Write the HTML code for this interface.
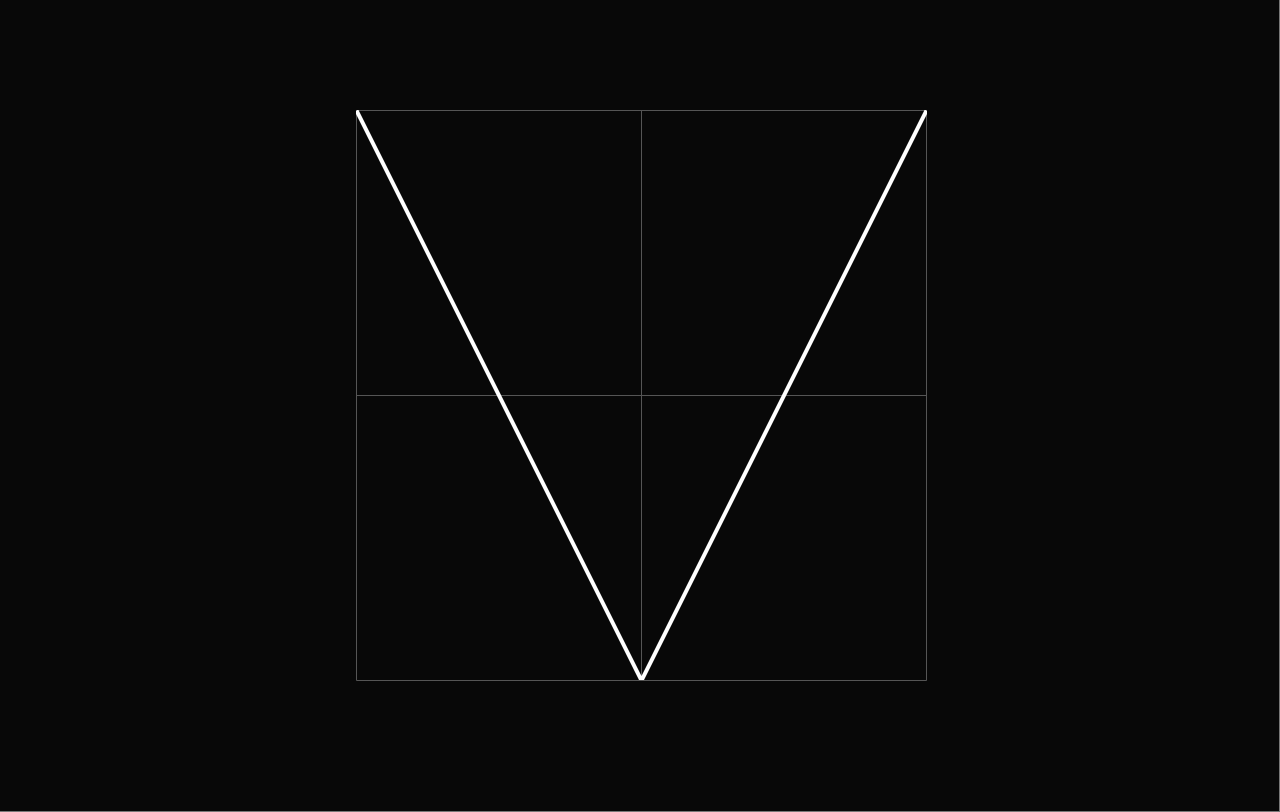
<!DOCTYPE html>
<html><head><meta charset="utf-8"><style>
html,body{margin:0;padding:0;background:#080808;}
svg{display:block;}
</style></head><body>
<svg id="chart" width="1280" height="812" xmlns="http://www.w3.org/2000/svg">
<defs><clipPath id="plotclip"><rect x="356" y="110" width="571" height="570"/></clipPath></defs>
<rect x="0" y="0" width="1280" height="812" fill="#080808"/>
<line x1="1279.5" y1="0" x2="1279.5" y2="812" stroke="#777" stroke-width="1"/>
<line x1="0" y1="811.5" x2="1280" y2="811.5" stroke="#777" stroke-width="1"/>
<g id="grid"></g>
<g id="series" clip-path="url(#plotclip)"></g>
</svg>
<script>
const xValues = [-1, 0, 1];
const yValues = [1, 0, 1];
const xGridTicks = [-1, 0, 1];
const yGridTicks = [0, 0.5, 1];

const X0 = 356.5, X1 = 926.5, Y0 = 680.5, Y1 = 110.5;
function sx(v){ return X0 + (v - (-1)) / 2 * (X1 - X0); }
function sy(v){ return Y0 - (v - 0) / 1 * (Y0 - Y1); }
const NS = 'http://www.w3.org/2000/svg';
const grid = document.getElementById('grid');
xGridTicks.forEach(function(t){
  const l = document.createElementNS(NS, 'line');
  l.setAttribute('x1', sx(t)); l.setAttribute('x2', sx(t));
  l.setAttribute('y1', Y0); l.setAttribute('y2', Y1);
  l.setAttribute('stroke', '#555'); l.setAttribute('stroke-width', '1');
  
  
  grid.appendChild(l);
});
yGridTicks.forEach(function(t){
  const l = document.createElementNS(NS, 'line');
  l.setAttribute('x1', X0); l.setAttribute('x2', X1);
  l.setAttribute('y1', sy(t)); l.setAttribute('y2', sy(t));
  l.setAttribute('stroke', '#555'); l.setAttribute('stroke-width', '1');
  
  
  grid.appendChild(l);
});
const pts = xValues.map(function(x, i){ return sx(x) + ',' + sy(yValues[i]); }).join(' ');
const pl = document.createElementNS(NS, 'polyline');
pl.setAttribute('points', pts);
pl.setAttribute('fill', 'none');
pl.setAttribute('stroke', '#ffffff');
pl.setAttribute('stroke-width', '4');
pl.setAttribute('stroke-linejoin', 'miter');


document.getElementById('series').appendChild(pl);
</script>
</body></html>
